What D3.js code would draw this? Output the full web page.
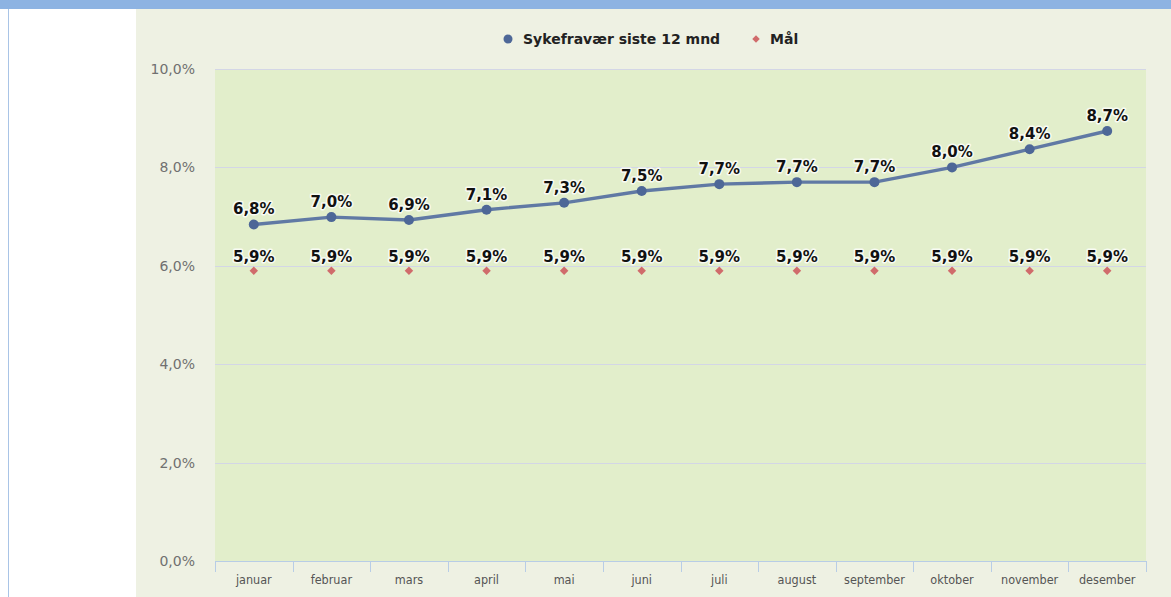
<!DOCTYPE html>
<html><head><meta charset="utf-8">
<script src="https://cdn.jsdelivr.net/npm/d3@7"></script>
<style>body{margin:0;background:#fff;}svg{display:block;}</style>
</head><body>
<script>
const months = ["januar","februar","mars","april","mai","juni","juli","august","september","oktober","november","desember"];
const sykefravaer = [6.84, 6.99, 6.93, 7.14, 7.28, 7.52, 7.66, 7.70, 7.70, 8.00, 8.37, 8.74];
const maal = [5.9, 5.9, 5.9, 5.9, 5.9, 5.9, 5.9, 5.9, 5.9, 5.9, 5.9, 5.9];
const yTicks = [0, 2, 4, 6, 8, 10];
const seriesNames = ["Sykefravær siste 12 mnd", "Mål"];

const W = 1171, H = 597;
const svg = d3.select("body").append("svg").attr("width", W).attr("height", H);
const fmt = v => d3.format(".1f")(v).replace(".", ",") + "%";

// frame
svg.append("rect").attr("x",0).attr("y",0).attr("width",W).attr("height",H).attr("fill","#fff");
svg.append("rect").attr("x",0).attr("y",0).attr("width",W).attr("height",9).attr("fill","#8db3e2");
svg.append("line").attr("x1",8.5).attr("x2",8.5).attr("y1",9).attr("y2",H).attr("stroke","#a9c4e6").attr("stroke-width",1);
svg.append("rect").attr("x",136).attr("y",9).attr("width",W-136).attr("height",H-9).attr("fill","#eef1e3");

const plot = {left:215, right:1146, top:69, bottom:561};
svg.append("rect").attr("x",plot.left).attr("y",plot.top).attr("width",plot.right-plot.left).attr("height",plot.bottom-plot.top).attr("fill","#e2eecb");

const x = d3.scaleBand().domain(months).range([plot.left, plot.right]).padding(0);
const y = d3.scaleLinear().domain([0,10]).range([plot.bottom, plot.top]);
const cx = m => x(m) + x.bandwidth()/2;

// gridlines
svg.append("g").selectAll("line").data(yTicks.filter(d=>d>0)).join("line")
  .attr("x1",plot.left).attr("x2",plot.right)
  .attr("y1",d=>Math.round(y(d))+0.5).attr("y2",d=>Math.round(y(d))+0.5)
  .attr("stroke","#d3d6e6").attr("stroke-width",1);

// y axis labels
const yAxis = svg.append("g").attr("transform",`translate(${plot.left},0)`)
  .call(d3.axisLeft(y).tickValues(yTicks).tickFormat(d=>fmt(d)).tickSize(0).tickPadding(20));
yAxis.select(".domain").remove();
yAxis.selectAll("text").attr("fill","#707070").style("font-family","'DejaVu Sans', sans-serif").style("font-size","14px");

// x axis
const xAxis = svg.append("g").attr("transform",`translate(0,${plot.bottom})`)
  .call(d3.axisBottom(x).tickSize(0).tickPadding(14));
xAxis.select(".domain").attr("stroke","#b8cde6");
xAxis.selectAll("text").attr("fill","#555").style("font-family","'DejaVu Sans Condensed','DejaVu Sans', sans-serif").style("font-size","12.5px");
// tick marks at band boundaries
const bounds = months.map(m=>x(m)).concat([plot.right]);
svg.append("g").selectAll("line").data(bounds).join("line")
  .attr("x1",d=>Math.round(d)+0.5).attr("x2",d=>Math.round(d)+0.5)
  .attr("y1",plot.bottom).attr("y2",plot.bottom+11)
  .attr("stroke","#b8cde6");

// line series
const line = d3.line().x((d,i)=>cx(months[i])).y(d=>y(d));
svg.append("path").datum(sykefravaer).attr("d",line).attr("fill","none")
  .attr("stroke","#6079a4").attr("stroke-width",3.4).attr("stroke-linejoin","round");
svg.append("g").selectAll("circle").data(sykefravaer).join("circle")
  .attr("cx",(d,i)=>cx(months[i])).attr("cy",d=>y(d)).attr("r",5).attr("fill","#4d6797");

// maal diamonds
svg.append("g").selectAll("path").data(maal).join("path")
  .attr("d", d3.symbol().type(d3.symbolSquare).size(36))
  .attr("transform",(d,i)=>`translate(${cx(months[i])},${y(d)}) rotate(45)`)
  .attr("fill","#d06b6b");

// labels
function labels(data, dy){
  const g = svg.append("g").style("font-family","'DejaVu Sans', Verdana, sans-serif").style("font-size","15px").style("font-weight","bold");
  g.selectAll("text.h").data(data).join("text")
    .attr("x",(d,i)=>cx(months[i])).attr("y",d=>y(d)+dy).attr("text-anchor","middle")
    .attr("fill","none").attr("stroke","#fff").attr("stroke-width",3).attr("stroke-opacity",0.8).attr("stroke-linejoin","round")
    .text(d=>fmt(d));
  g.selectAll("text.t").data(data).join("text")
    .attr("x",(d,i)=>cx(months[i])).attr("y",d=>y(d)+dy).attr("text-anchor","middle")
    .attr("fill","#111").text(d=>fmt(d));
}
labels(sykefravaer, -10);
labels(maal, -9);

// legend
const lg = svg.append("g").style("font-family","'DejaVu Sans', sans-serif").style("font-size","14px").style("font-weight","bold");
lg.append("circle").attr("cx",508).attr("cy",39).attr("r",4.5).attr("fill","#4d6797");
lg.append("text").attr("x",523).attr("y",44).attr("fill","#222").text(seriesNames[0]);
lg.append("path").attr("d", d3.symbol().type(d3.symbolSquare).size(28)).attr("transform","translate(756,39) rotate(45)").attr("fill","#d06b6b");
lg.append("text").attr("x",770).attr("y",44).attr("fill","#222").text(seriesNames[1]);
</script>
</body></html>
